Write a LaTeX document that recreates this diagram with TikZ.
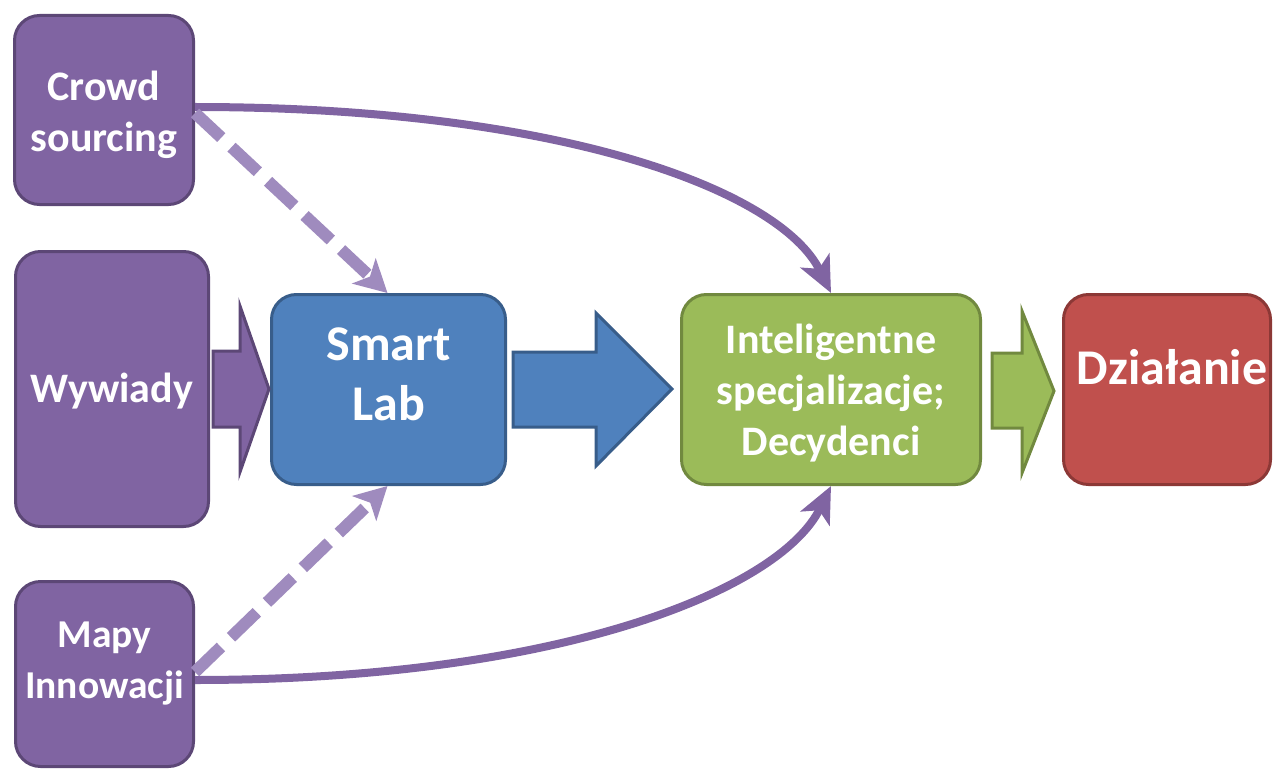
\documentclass[tikz,border=0pt]{standalone}
\usepackage{fontspec}
\setmainfont{Carlito}
\usetikzlibrary{arrows.meta,calc}
\definecolor{purp}{HTML}{8064A2}
\definecolor{purpd}{HTML}{5C4776}
\definecolor{purpl}{HTML}{9F8BBE}
\definecolor{blu}{HTML}{4F81BD}
\definecolor{blud}{HTML}{385D8A}
\definecolor{grn}{HTML}{9BBB59}
\definecolor{grnd}{HTML}{71893F}
\definecolor{rd}{HTML}{C0504D}
\definecolor{rdd}{HTML}{8C3836}
\begin{document}
\begin{tikzpicture}[x=1pt,y=-1pt,
  box/.style={draw, line width=3pt, rounded corners=25pt, inner sep=0pt},
  lbl/.style={text=white, font=\bfseries\fontsize{42}{51}\selectfont, align=center, inner sep=0pt},
  biglbl/.style={lbl, font=\bfseries\fontsize{50}{60}\selectfont},
  purplebox/.style={box, draw=purpd, fill=purp},
  curvearr/.style={draw=purp, line width=8pt, -{Stealth[length=36pt,width=32pt,inset=9pt]}},
  dasharr/.style={draw=purpl, line width=12pt, dash pattern=on 36pt off 14pt,
    -{Stealth[length=32pt,width=34pt,inset=8pt]}},
  blockarr/.style={line width=3pt, line join=miter}
]
\useasboundingbox (0,0) rectangle (1273,770);

\node[purplebox, minimum width=179pt, minimum height=189pt] (crowd) at (104,110) {};
\node[lbl] (crowdtxt) at (104,115) {Crowd\\sourcing};
\node[purplebox, minimum width=193pt, minimum height=275pt] (wyw) at (112,389) {};
\node[lbl] (wywtxt) at (112,391) {Wywiady};
\node[purplebox, minimum width=178pt, minimum height=185pt] (mapy) at (104.5,674) {};
\node[lbl, font=\bfseries\fontsize{39.5}{51}\selectfont] (mapytxt) at (104.5,664) {Mapy\\Innowacji};
\node[box, draw=blud, fill=blu, minimum width=234pt, minimum height=190pt] (smart) at (388.5,389.5) {};
\node[biglbl] (smarttxt) at (388.5,374.5) {Smart\\Lab};
\node[box, draw=grnd, fill=grn, minimum width=299pt, minimum height=190pt] (intel) at (831,389.5) {};
\node[lbl] (inteltxt) at (831,393.5) {Inteligentne\\specjalizacje;\\Decydenci};
\node[box, draw=rdd, fill=rd, minimum width=207pt, minimum height=190pt] (dzial) at (1167,389.5) {};
\node[biglbl] (dzialtxt) at (1172,367.5) {Działanie};

% block arrows
\draw[blockarr, draw=purpd, fill=purp] (213,351) -- (240,351) -- (240,306) -- (269,389) -- (240,472) -- (240,427) -- (213,427) -- cycle;
\draw[blockarr, draw=blud, fill=blu] (513,352) -- (596,352) -- (596,313) -- (672,389) -- (596,466) -- (596,427) -- (513,427) -- cycle;
\draw[blockarr, draw=grnd, fill=grn] (992,353) -- (1022,353) -- (1022,311) -- (1054,391) -- (1022,473) -- (1022,428) -- (992,428) -- cycle;

% curved arrows
\draw[curvearr] ([yshift=3pt]crowd.east) .. controls (560,107) and (780,190) .. (intel.north);
\draw[curvearr] ([yshift=-6pt]mapy.east) .. controls (560,680) and (780,590) .. (intel.south);

% dashed arrows
\draw[dasharr] ([yshift=-3pt]crowd.east) -- ([xshift=-1pt]smart.north);
\draw[dasharr] ([yshift=2pt]mapy.east) -- ([xshift=-1pt]smart.south);
\end{tikzpicture}
\end{document}
